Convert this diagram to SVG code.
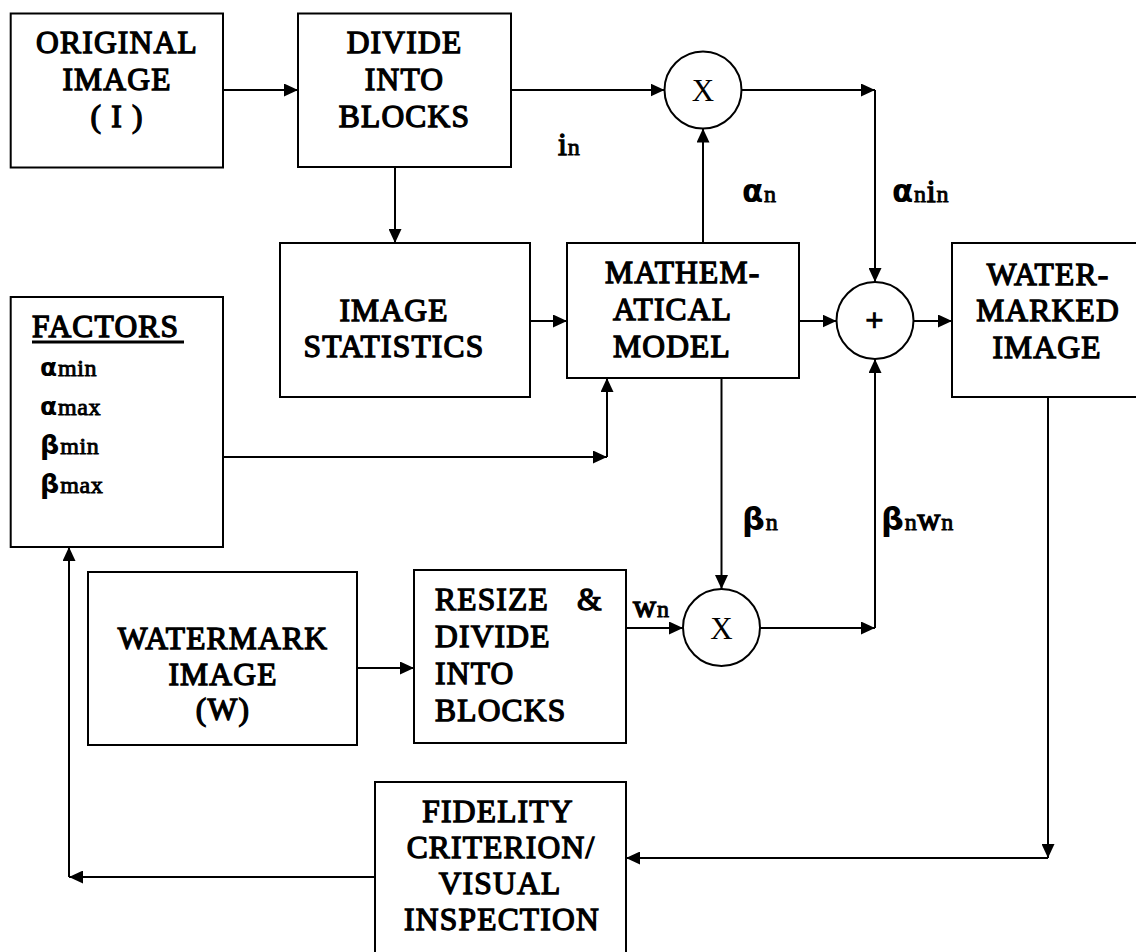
<svg xmlns="http://www.w3.org/2000/svg" width="1136" height="952" viewBox="0 0 1136 952">
<defs>
<marker id="ah" markerUnits="userSpaceOnUse" markerWidth="14" markerHeight="13" refX="14" refY="6.5" orient="auto"><path d="M0,0 L14,6.5 L0,13 z" fill="#000"/></marker>
<style>
.box{fill:#fff;stroke:#000;stroke-width:2}
.circ{fill:#fff;stroke:#000;stroke-width:2}
.a{fill:none;stroke:#000;stroke-width:2;marker-end:url(#ah)}
.t{font-family:"Liberation Serif","Times New Roman",serif;font-weight:normal;font-size:31.5px;fill:#000;stroke:#000;stroke-width:1.3px;letter-spacing:1.2px;text-anchor:middle}
.tl{font-family:"Liberation Serif","Times New Roman",serif;font-weight:normal;font-size:31.5px;fill:#000;stroke:#000;stroke-width:1.3px;letter-spacing:1.2px}
.x{font-family:"Liberation Serif","Times New Roman",serif;font-size:31px;fill:#000;text-anchor:middle}
.g{font-family:"DejaVu Sans",sans-serif;font-weight:bold;stroke-width:0}
.s{font-size:24px;stroke-width:0.9px;letter-spacing:0.6px}
.lb{font-family:"Liberation Serif","Times New Roman",serif;font-weight:normal;font-size:32px;fill:#000;stroke:#000;stroke-width:1.3px;letter-spacing:0.8px}
</style>
</defs>
<rect width="1136" height="952" fill="#fff"/>
<g id="connectors">
<path class="a" d="M223,90 H298"/>
<path class="a" d="M511,90 H664.5"/>
<path class="a" d="M741.5,90 H875"/>
<path class="a" d="M875,90 V282"/>
<path class="a" d="M395,167 V243"/>
<path class="a" d="M703,243 V128.5"/>
<path class="a" d="M530,321 H567"/>
<path class="a" d="M799,321 H836.5"/>
<path class="a" d="M913.5,321 H952"/>
<path class="a" d="M223,457 H607"/>
<path class="a" d="M607,457 V378"/>
<path class="a" d="M721.5,378 V589"/>
<path class="a" d="M626,628 H683"/>
<path class="a" d="M760,628 H875"/>
<path class="a" d="M875,628 V359"/>
<path class="a" d="M357,668 H414"/>
<path class="a" d="M1048,397 V858"/>
<path class="a" d="M1048,858 H626"/>
<path class="a" d="M375,877 H69"/>
<path class="a" d="M69,877 V547"/>
<text class="lb" x="558" y="155">i<tspan class="s">n</tspan></text>
<text class="lb" x="742" y="202"><tspan class="g" font-size="31">α</tspan><tspan class="s">n</tspan></text>
<text class="lb" x="892" y="202"><tspan class="g" font-size="31">α</tspan><tspan class="s">n</tspan>i<tspan class="s">n</tspan></text>
<text class="lb" x="742" y="530"><tspan class="g" font-size="32">β</tspan><tspan class="s">n</tspan></text>
<text class="lb" x="881" y="530"><tspan class="g" font-size="32">β</tspan><tspan class="s">n</tspan>w<tspan class="s">n</tspan></text>
<text class="lb" x="633" y="617">w<tspan class="s">n</tspan></text>
</g>
<g id="original">
<rect class="box" x="10.7" y="13.5" width="212.3" height="154"/>
<text class="t" x="117" y="53">ORIGINAL</text>
<text class="t" x="117" y="90">IMAGE</text>
<text class="t" x="117" y="127">( I )</text>
</g>
<g id="divide">
<rect class="box" x="298" y="13.5" width="213" height="153.5"/>
<text class="t" x="404.5" y="53">DIVIDE</text>
<text class="t" x="404.5" y="90">INTO</text>
<text class="t" x="404.5" y="127">BLOCKS</text>
</g>
<g id="mult1">
<circle class="circ" cx="703" cy="90" r="38.5"/>
<text class="x" x="703" y="101">X</text>
</g>
<g id="stats">
<rect class="box" x="280" y="243" width="250" height="154"/>
<text class="t" x="394" y="321">IMAGE</text>
<text class="t" x="394" y="357">STATISTICS</text>
</g>
<g id="model">
<rect class="box" x="567" y="243" width="232" height="135"/>
<text class="tl" x="605" y="283">MATHEM-</text>
<text class="tl" x="613" y="320">ATICAL</text>
<text class="tl" x="613" y="357">MODEL</text>
</g>
<g id="sum">
<circle class="circ" cx="875" cy="320.5" r="38.5"/>
<text class="t" x="875" y="331" font-size="28">+</text>
</g>
<g id="watermarked">
<rect class="box" x="952" y="243" width="192" height="154"/>
<text class="t" x="1048" y="285">WATER-</text>
<text class="t" x="1048" y="321">MARKED</text>
<text class="t" x="1047" y="358">IMAGE</text>
</g>
<g id="factors">
<rect class="box" x="10.7" y="297" width="212.3" height="250"/>
<text class="tl" x="32" y="337">FACTORS</text>
<line x1="32" y1="342" x2="184" y2="342" stroke="#000" stroke-width="3"/>
<text class="lb" x="40" y="376"><tspan class="g" font-size="25">α</tspan><tspan class="s">min</tspan></text>
<text class="lb" x="40" y="415"><tspan class="g" font-size="25">α</tspan><tspan class="s">max</tspan></text>
<text class="lb" x="40" y="454"><tspan class="g" font-size="27">β</tspan><tspan class="s">min</tspan></text>
<text class="lb" x="40" y="493"><tspan class="g" font-size="27">β</tspan><tspan class="s">max</tspan></text>
</g>
<g id="watermark">
<rect class="box" x="88" y="572" width="269" height="173"/>
<text class="t" x="223" y="649">WATERMARK</text>
<text class="t" x="223" y="685">IMAGE</text>
<text class="t" x="223" y="720">(W)</text>
</g>
<g id="resize">
<rect class="box" x="414" y="570" width="212" height="173"/>
<text class="tl" x="435" y="610">RESIZE</text>
<text class="tl" x="577" y="610">&amp;</text>
<text class="tl" x="435" y="647">DIVIDE</text>
<text class="tl" x="435" y="684">INTO</text>
<text class="tl" x="435" y="721">BLOCKS</text>
</g>
<g id="mult2">
<circle class="circ" cx="721.5" cy="627.5" r="38.5"/>
<text class="x" x="721.5" y="638.5">X</text>
</g>
<g id="fidelity">
<rect class="box" x="375" y="782" width="251" height="175"/>
<text class="t" x="498" y="822">FIDELITY</text>
<text class="t" x="501" y="858">CRITERION/</text>
<text class="t" x="500" y="894">VISUAL</text>
<text class="t" x="502" y="930">INSPECTION</text>
</g>
</svg>
